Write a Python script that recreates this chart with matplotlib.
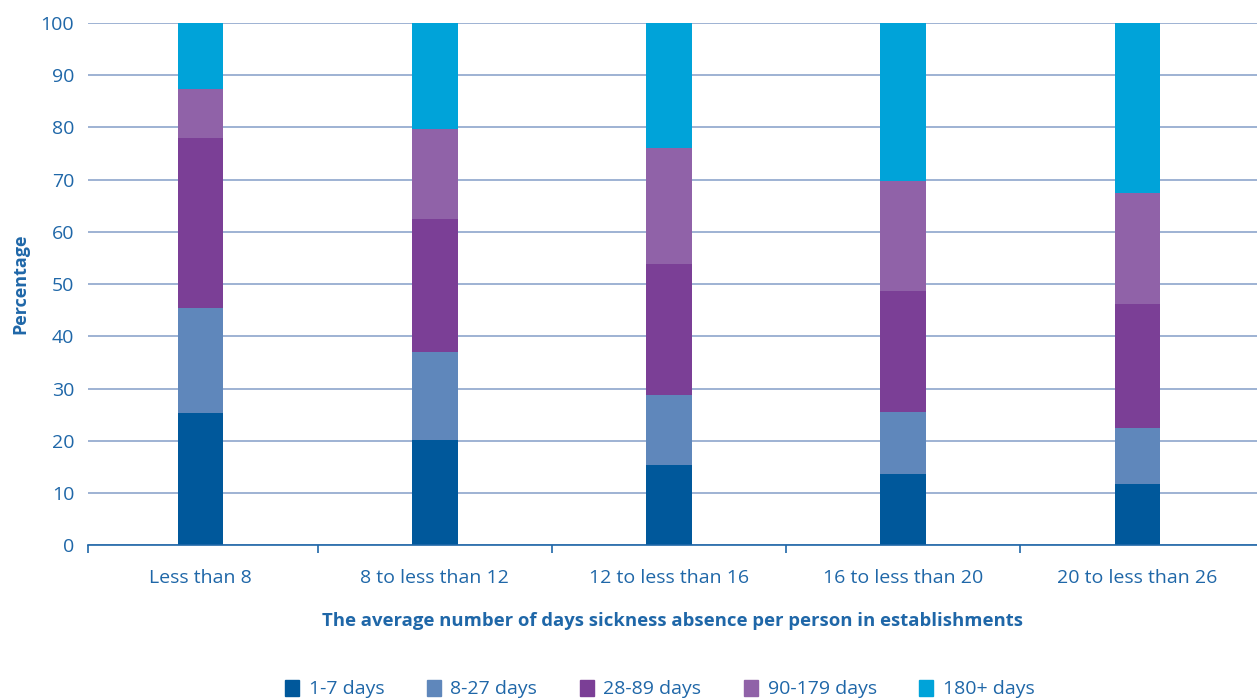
import numpy as np
import matplotlib.pyplot as plt
from matplotlib.patches import Patch

plt.rcParams['font.family'] = ['Open Sans', 'DejaVu Sans']

categories = ['Less than 8', '8 to less than 12', '12 to less than 16',
              '16 to less than 20', '20 to less than 26']
series = ['1-7 days', '8-27 days', '28-89 days', '90-179 days', '180+ days']
values = {
    '1-7 days':    [25.3, 20.1, 15.3, 13.6, 11.7],
    '8-27 days':   [20.1, 16.9, 13.4, 11.9, 10.7],
    '28-89 days':  [32.6, 25.5, 25.1, 23.2, 23.8],
    '90-179 days': [9.4, 17.2, 22.3, 21.0, 21.2],
    '180+ days':   [12.6, 20.3, 23.9, 30.3, 32.6],
}
colors = ['#00589b', '#5f87bb', '#7b3f96', '#9062a8', '#00a3d9']
yticks = list(range(0, 101, 10))

text_col = '#1f67a8'
grid_col = '#8ea6cc'

fig = plt.figure(figsize=(12.57, 6.98), dpi=100)
ax = fig.add_axes([0.070, 0.219, 0.93, 0.748])

x = np.arange(len(categories))
bottom = np.zeros(len(categories))
for name, col in zip(series, colors):
    v = np.array(values[name])
    ax.bar(x, v, width=0.195, bottom=bottom, color=col, zorder=3, label=name)
    bottom += v

ax.set_xlim(-0.48, len(categories) - 0.49)
ax.set_ylim(0, 100)
ax.set_yticks(yticks)
ax.yaxis.grid(True, color=grid_col, linewidth=1.2, zorder=0)
ax.tick_params(axis='y', length=0, pad=10, labelsize=14, labelcolor=text_col)

ax.set_xticks(x)
ax.set_xticklabels(categories)
ax.tick_params(axis='x', length=0, pad=17, labelsize=14, labelcolor=text_col)
ax.set_xticks([-0.48, 0.5, 1.5, 2.5, 3.5], minor=True)
ax.tick_params(axis='x', which='minor', length=6, width=1.2, color=text_col, direction='out')

for s in ['top', 'right', 'left']:
    ax.spines[s].set_visible(False)
ax.spines['bottom'].set_color(text_col)
ax.spines['bottom'].set_linewidth(1.2)
ax.spines['bottom'].set_zorder(4)

ax.set_ylabel('Percentage', fontsize=13, fontweight='bold', color=text_col, labelpad=8)
ax.set_xlabel('The average number of days sickness absence per person in establishments',
              fontsize=13.3, fontweight='bold', color=text_col, labelpad=18)

handles = [Patch(color=c, label=n) for n, c in zip(series, colors)]
leg = fig.legend(handles=handles, loc='center', bbox_to_anchor=(0.525, 0.013), ncol=5,
                 frameon=False, fontsize=14, handlelength=0.7, handleheight=0.9,
                 handletextpad=0.5, columnspacing=2.2)
for t in leg.get_texts():
    t.set_color(text_col)

fig.savefig('out.png', dpi=100)
